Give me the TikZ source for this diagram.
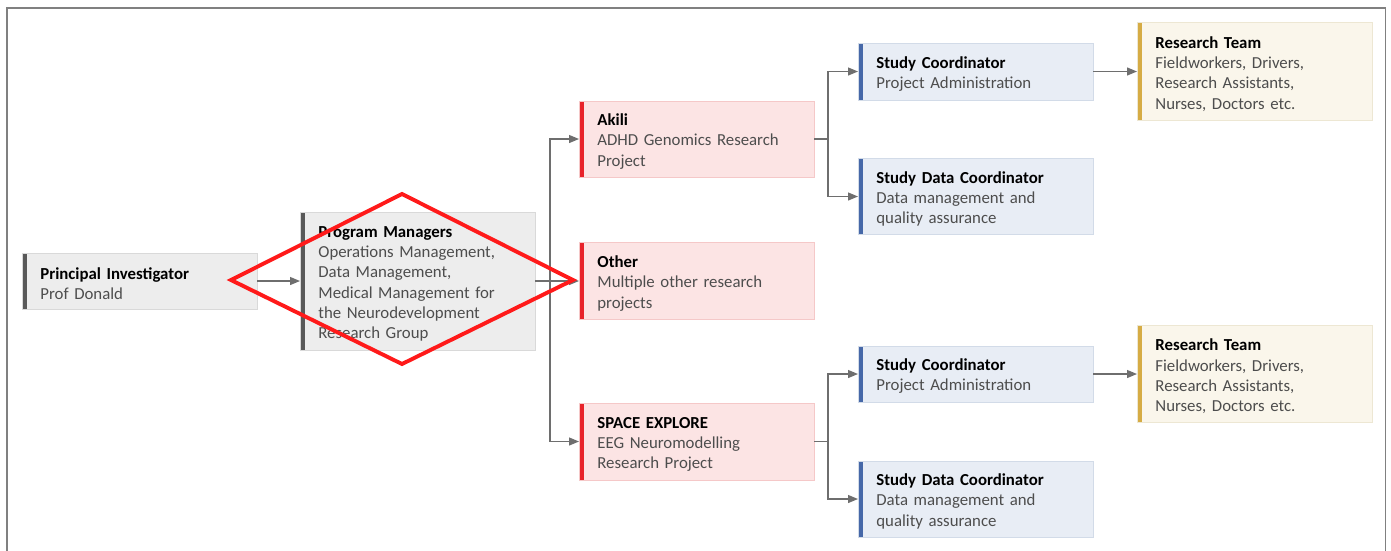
\documentclass[tikz,border=0pt]{standalone}
\usepackage{fontspec}
\setmainfont{Carlito}
\usetikzlibrary{arrows.meta}
\definecolor{framegray}{HTML}{808080}
\definecolor{txtgray}{HTML}{4D4D4D}
\definecolor{conngray}{HTML}{6E6E6E}
\definecolor{grayfill}{HTML}{EDEDED}
\definecolor{grayline}{HTML}{D9D9D9}
\definecolor{graybar}{HTML}{595959}
\definecolor{pinkfill}{HTML}{FCE4E4}
\definecolor{pinkline}{HTML}{F5C8C8}
\definecolor{redbar}{HTML}{E8232A}
\definecolor{bluefill}{HTML}{E8EDF5}
\definecolor{blueline}{HTML}{D2DBE8}
\definecolor{bluebar}{HTML}{4668A8}
\definecolor{creamfill}{HTML}{FAF6EB}
\definecolor{creamline}{HTML}{EDE7D3}
\definecolor{goldbar}{HTML}{D6AC45}
\definecolor{markred}{HTML}{FF1A1A}
\newcommand{\boxtitle}[1]{\rule{0pt}{16.5pt}\textcolor{black}{\bfseries #1}}
\tikzset{
  orgbox/.style n args={3}{draw=#2, fill=#1, line width=0.8pt,
    text width=198.5pt, inner xsep=18pt, inner ysep=0pt,
    align=left, anchor=west, text=txtgray,
    font=\fontsize{16.8}{20.3}\selectfont,
    path picture={\fill[#3] (path picture bounding box.north west)
      rectangle ([xshift=5pt]path picture bounding box.south west);}},
  graybox/.style={orgbox={grayfill}{grayline}{graybar}},
  pinkbox/.style={orgbox={pinkfill}{pinkline}{redbar}},
  bluebox/.style={orgbox={bluefill}{blueline}{bluebar}},
  creambox/.style={orgbox={creamfill}{creamline}{goldbar}},
  conn/.style={draw=conngray, line width=1.2pt},
  arr/.style={conn, -{Triangle[length=10pt,width=8pt]}},
  redmark/.style={draw=markred, line width=3.9pt, line join=miter}
}
\begin{document}
\begin{tikzpicture}[x=1pt,y=-1pt]
\useasboundingbox (0,0) rectangle (1391,550);
\fill[white] (0,0) rectangle (1391,550);
\draw[framegray, line width=1.6pt] (7,552) -- (7,8) -- (1385.5,8) -- (1385.5,552);

\node[graybox, minimum height=56pt] (pi) at (22,281)
  {\boxtitle{Principal Investigator}\\Prof Donald};
\node[graybox, minimum height=138pt] (pm) at (300,281)
  {\boxtitle{Program Managers}\\Operations Management,\\Data Management,\\Medical Management for\\the Neurodevelopment\\Research Group};
\node[pinkbox, minimum height=76pt] (akili) at (579,139)
  {\boxtitle{Akili}\\ADHD Genomics Research\\Project};
\node[pinkbox, minimum height=77pt] (other) at (579,281)
  {\boxtitle{Other}\\Multiple other research\\projects};
\node[pinkbox, minimum height=77pt] (space) at (579,441.5)
  {\boxtitle{SPACE EXPLORE}\\EEG Neuromodelling\\Research Project};
\node[bluebox, minimum height=57pt] (sc1) at (858,71.5)
  {\boxtitle{Study Coordinator}\\Project Administration};
\node[bluebox, minimum height=76pt] (sdc1) at (858,196.5)
  {\boxtitle{Study Data Coordinator}\\Data management and\\quality assurance};
\node[creambox, minimum height=98pt] (rt1) at (1137,71.5)
  {\boxtitle{Research Team}\\Fieldworkers, Drivers,\\Research Assistants,\\Nurses, Doctors etc.};
\node[bluebox, minimum height=56pt] (sc2) at (858,374)
  {\boxtitle{Study Coordinator}\\Project Administration};
\node[bluebox, minimum height=76pt] (sdc2) at (858,499)
  {\boxtitle{Study Data Coordinator}\\Data management and\\quality assurance};
\node[creambox, minimum height=97pt] (rt2) at (1137,374)
  {\boxtitle{Research Team}\\Fieldworkers, Drivers,\\Research Assistants,\\Nurses, Doctors etc.};

\coordinate (j1) at (550,281);
\coordinate (j2) at (828,139);
\coordinate (j3) at (828,441.5);

\draw[arr] (pi) -- (pm);
\draw[arr] (pm.east) -- (other.west);
\draw[arr] (j1) |- (akili.west);
\draw[arr] (j1) |- (space.west);
\draw[conn] (akili.east) -- (j2);
\draw[arr] (j2) |- (sc1.west);
\draw[arr] (j2) |- (sdc1.west);
\draw[arr] (sc1.east) -- (sc1.east -| rt1.west);
\draw[conn] (space.east) -- (j3);
\draw[arr] (j3) |- (sc2.west);
\draw[arr] (j3) |- (sdc2.west);
\draw[arr] (sc2.east) -- (sc2.east -| rt2.west);

\draw[redmark] (231,280) -- (402,194) -- (573,280) -- (402,364) -- cycle;
\end{tikzpicture}
\end{document}
